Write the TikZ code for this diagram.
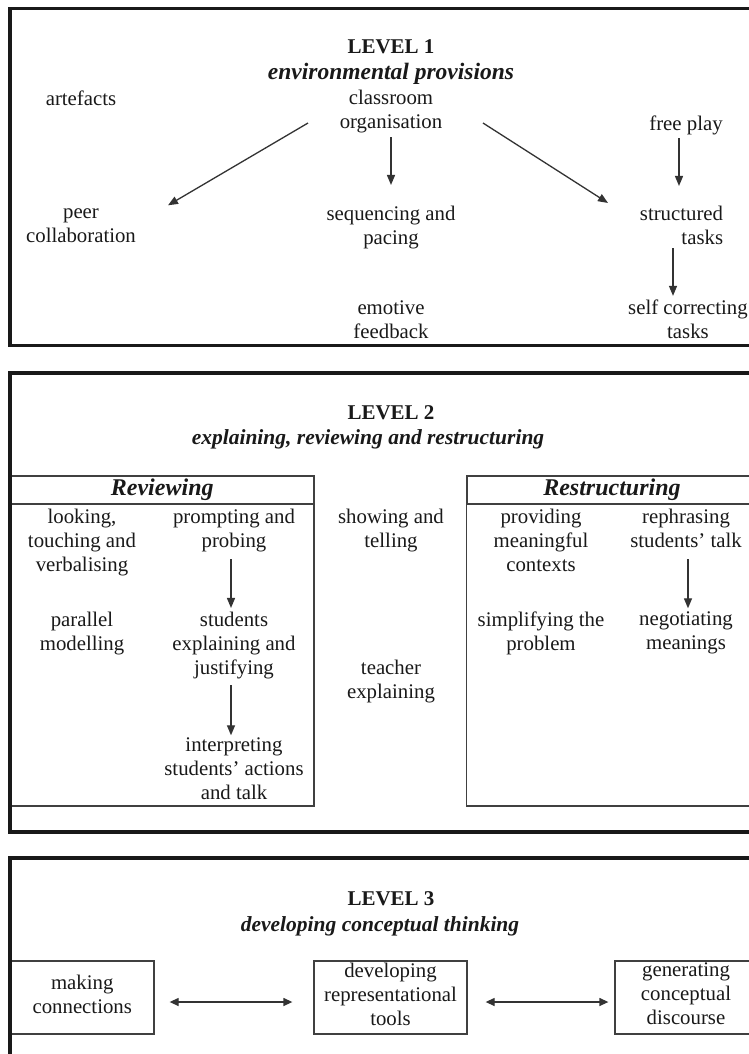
\documentclass[tikz,border=0pt]{standalone}
\usepackage{fontspec}
\setmainfont{Liberation Serif}
\usetikzlibrary{arrows.meta,calc}
\begin{document}
\begin{tikzpicture}[x=1pt,y=-1pt,
  txt/.style={inner sep=0pt, align=center, font=\fontsize{20.8}{24}\selectfont,
    execute at begin node=\strut, execute at end node=\strut, text=black!90},
  ttl/.style={inner sep=0pt, anchor=base, text=black!90, font=\fontsize{21}{24}\selectfont\bfseries},
  sub/.style={inner sep=0pt, anchor=base, text=black!90, font=\fontsize{21.5}{24}\selectfont\bfseries\itshape},
  frame/.style={line width=3.2pt, draw=black!90},
  inbox/.style={line width=1.3pt, draw=black!75},
  hdr/.style={inbox, inner sep=0pt, minimum height=28pt, text=black!90,
    font=\fontsize{24}{26}\selectfont\bfseries\itshape},
  boxed/.style={txt, inbox, draw},
  arr/.style={line width=1.3pt, draw=black!80, -{Triangle[length=10pt,width=8pt]}},
  darr/.style={line width=1.3pt, draw=black!80,
    {Triangle[length=9pt,width=8pt]}-{Triangle[length=9pt,width=8pt]}}]
\useasboundingbox (0,0) rectangle (749,1054);
\fill[white] (0,0) rectangle (749,1054);
\clip (0,0) rectangle (749,1054);

% ---------- LEVEL 1 ----------
\node[ttl] (t1) at (391,54) {LEVEL 1};
\node[sub, font=\fontsize{23.5}{26}\selectfont\bfseries\itshape] (s1) at (391,80) {environmental provisions};
\node[txt] (artefacts) at (81,100.5) {artefacts};
\node[txt] (classroom) at (391,112.5) {classroom\\organisation};
\node[txt] (freeplay) at (686,125.5) {free play};
\node[txt] (peer) at (81,229) {peer\\collaboration};
\node[txt] (seq) at (391,229) {sequencing and\\pacing};
\node[txt, align=right] (struct) at (681.5,229) {structured\\tasks};
\node[txt] (emotive) at (391,323) {emotive\\feedback};
\node[txt] (selfc) at (688,323) {self correcting\\tasks};

\draw[arr] ([shift={(-83,-12.5)}]classroom.south) -- ([shift={(87,-3)}]peer.north);
\draw[arr] ([shift={(0,1.5)}]classroom.south) -- ([shift={(0,-21)}]seq.north);
\draw[arr] ([shift={(92,-12.5)}]classroom.south) -- ([shift={(-73.5,-3)}]struct.north);
\draw[arr] ([shift={(-7,0.5)}]freeplay.south) -- ([shift={(-2.5,-20)}]struct.north);
\draw[arr] ([shift={(-8.5,-4)}]struct.south) -- ([shift={(-15,-4)}]selfc.north);

% ---------- LEVEL 2 ----------
\node[ttl] (t2) at (391,419.5) {LEVEL 2};
\node[sub] (s2) at (368,444.5) {explaining, reviewing and restructuring};

\node[hdr, minimum width=303.5pt] (revh) at (162.25,490) {Reviewing};
\draw[inbox] (revh.south west) rectangle (314,806);
\node[hdr, minimum width=290pt] (resh) at (612,490) {Restructuring};
\draw[inbox] (resh.south west) rectangle (757,806);

\node[txt] (looking) at (82,543.5) {looking,\\touching and\\verbalising};
\node[txt] (prompting) at (234,531.5) {prompting and\\probing};
\node[txt] (parallel) at (82,634.5) {parallel\\modelling};
\node[txt] (students) at (234,646.5) {students\\explaining and\\justifying};
\node[txt] (interp) at (234,772) {interpreting\\students’ actions\\and talk};
\node[txt] (showing) at (391,531.5) {showing and\\telling};
\node[txt] (teacher) at (391,682.5) {teacher\\explaining};
\node[txt] (providing) at (541,543.5) {providing\\meaningful\\contexts};
\node[txt] (rephrasing) at (686,531.5) {rephrasing\\students’ talk};
\node[txt] (simplifying) at (541,634.5) {simplifying the\\problem};
\node[txt] (negotiating) at (686,634.5) {negotiating\\meanings};

\draw[arr] ([shift={(-3,4.5)}]prompting.south) -- ([shift={(-3,-3.5)}]students.north);
\draw[arr] ([shift={(-3,3.5)}]students.south) -- ([shift={(-3,-2)}]interp.north);
\draw[arr] ([shift={(2,4.5)}]rephrasing.south) -- ([shift={(2,-3.5)}]negotiating.north);

% ---------- LEVEL 3 ----------
\node[ttl] (t3) at (391,905) {LEVEL 3};
\node[sub] (s3) at (380,931) {developing conceptual thinking};

\node[boxed, minimum width=143.5pt, minimum height=73pt] (mk) at (82.25,997.5) {making\\connections};
\node[boxed, minimum width=153pt, minimum height=73pt] (dv) at (390.5,997.5) {developing\\representational\\tools};
\node[boxed, minimum width=142pt, minimum height=73pt] (gn) at (686,997.5) {generating\\conceptual\\discourse};

\draw[darr] ([shift={(15,4.5)}]mk.east) -- ([shift={(-21,4.5)}]dv.west);
\draw[darr] ([shift={(18,4.5)}]dv.east) -- ([shift={(-6,4.5)}]gn.west);

% ---------- frames ----------
\draw[frame] (10,8.5) rectangle (760,345.5);
\draw[frame] (10,373) rectangle (760,832);
\draw[frame] (10,858) rectangle (760,1100);
\end{tikzpicture}
\end{document}
